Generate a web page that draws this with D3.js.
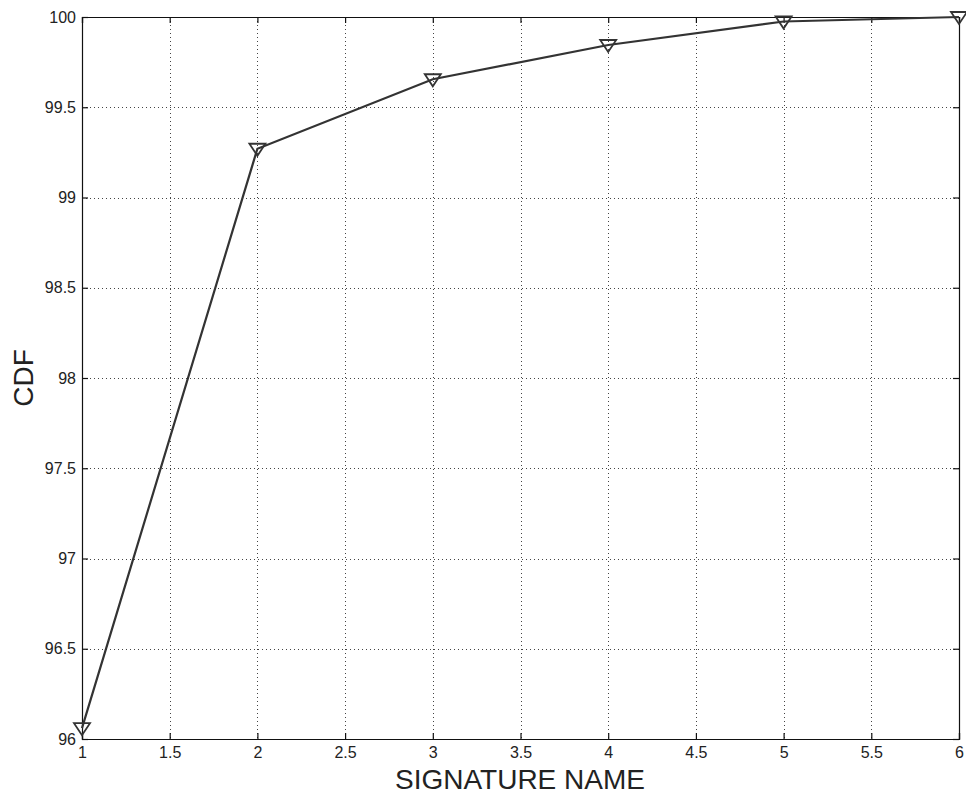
<!DOCTYPE html>
<html>
<head>
<meta charset="utf-8">
<script src="https://cdn.jsdelivr.net/npm/d3@7"></script>
<style>
  body { margin: 0; background: #fff; }
  text { font-family: "Liberation Sans", Arial, sans-serif; fill: #222; }
</style>
</head>
<body>
<svg width="966" height="794"></svg>
<script>
// data
var signatures = [1, 2, 3, 4, 5, 6];
var cdfValues = [96.06, 99.27, 99.655, 99.845, 99.975, 100];
var xTicks = [1, 1.5, 2, 2.5, 3, 3.5, 4, 4.5, 5, 5.5, 6];
var yTicks = [96, 96.5, 97, 97.5, 98, 98.5, 99, 99.5, 100];

const svg = d3.select("svg");
var plotLeft = 82, plotRight = 959, plotTop = 17, plotBottom = 739;

var x = d3.scaleLinear().domain([1, 6]).range([plotLeft, plotRight]);
var y = d3.scaleLinear().domain([96, 100]).range([plotBottom, plotTop]);

// grid
var grid = svg.append("g");
grid.selectAll("line.gx")
  .data(xTicks.slice(1, -1))
  .join("line")
  .attr("x1", d => Math.round(x(d)) + 0.5).attr("x2", d => Math.round(x(d)) + 0.5)
  .attr("y1", plotTop).attr("y2", plotBottom)
  .attr("stroke", "#444").attr("stroke-width", 1)
  .attr("stroke-dasharray", "1,3");
grid.selectAll("line.gy")
  .data(yTicks.slice(1, -1))
  .join("line")
  .attr("y1", d => Math.round(y(d)) + 0.5).attr("y2", d => Math.round(y(d)) + 0.5)
  .attr("x1", plotLeft).attr("x2", plotRight)
  .attr("stroke", "#444").attr("stroke-width", 1)
  .attr("stroke-dasharray", "1,3");

// axes (box with inward ticks)
var fmt = d3.format("");
svg.append("g")
  .attr("transform", "translate(0," + plotBottom + ")")
  .call(d3.axisBottom(x).tickValues(xTicks).tickSize(-6).tickPadding(8).tickFormat(fmt));
svg.append("g")
  .attr("transform", "translate(0," + plotTop + ")")
  .call(d3.axisTop(x).tickValues(xTicks).tickSize(-6).tickFormat(""));
svg.append("g")
  .attr("transform", "translate(" + plotLeft + ",0)")
  .call(d3.axisLeft(y).tickValues(yTicks).tickSize(-6).tickPadding(6).tickFormat(fmt));
svg.append("g")
  .attr("transform", "translate(" + plotRight + ",0)")
  .call(d3.axisRight(y).tickValues(yTicks).tickSize(-6).tickFormat(""));

svg.selectAll(".domain").attr("stroke", "#111").attr("stroke-width", 1.2);
svg.selectAll(".tick line").attr("stroke", "#111").attr("stroke-width", 1.2);
svg.selectAll(".tick text")
  .attr("font-size", null)
  .style("font-family", "'Liberation Sans', Arial, sans-serif")
  .style("font-size", "16px")
  .attr("fill", "#222");

// line
var line = d3.line()
  .x(function (d, i) { return x(signatures[i]); })
  .y(function (d) { return y(d); });

svg.append("path")
  .datum(cdfValues)
  .attr("d", line)
  .attr("fill", "none")
  .attr("stroke", "#333")
  .attr("stroke-width", 2.2);

// triangle-down markers
svg.selectAll("path.marker")
  .data(cdfValues)
  .join("path")
  .attr("class", "marker")
  .attr("transform", function (d, i) {
    return "translate(" + x(signatures[i]) + "," + y(d) + ")";
  })
  .attr("d", "M-8,-5L8,-5L0,7Z")
  .attr("fill", "none")
  .attr("stroke", "#333")
  .attr("stroke-width", 1.8);

// labels
svg.append("text")
  .attr("x", 520)
  .attr("y", 789)
  .attr("text-anchor", "middle")
  .style("font-size", "28px")
  .text("SIGNATURE NAME");

svg.append("text")
  .attr("transform", "translate(33," + (plotTop + plotBottom) / 2 + ") rotate(-90)")
  .attr("text-anchor", "middle")
  .style("font-size", "28px")
  .text("CDF");
</script>
</body>
</html>
